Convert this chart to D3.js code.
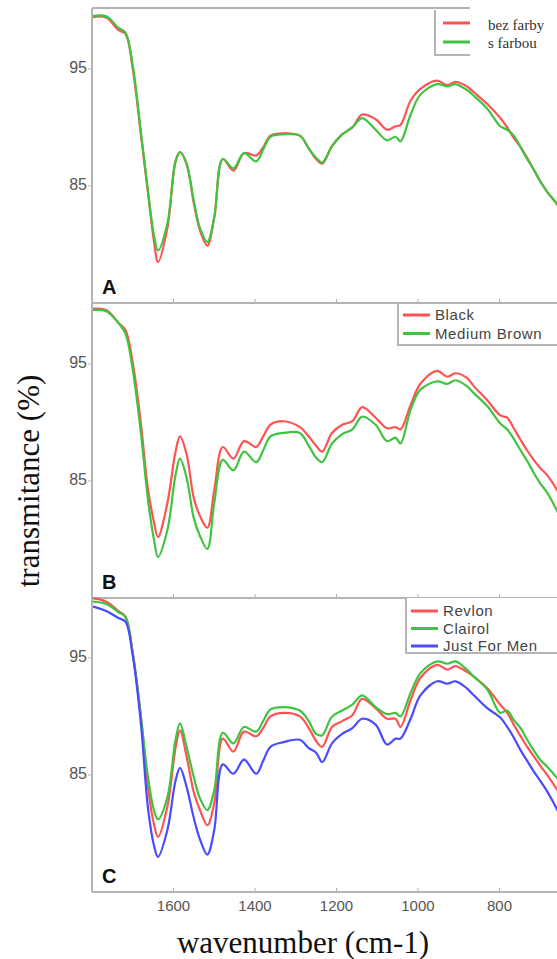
<html>
<head>
  <script src="https://d3js.org/d3.v7.min.js"></script>
  <style>
    body { margin: 0; background: #fff; }
    .frame { stroke: #b4b4b4; stroke-width: 2; fill: none; }
    .tick-mark { stroke: #b4b4b4; stroke-width: 1; }
  </style>
</head>
<body>
  <svg id="chart" width="557" height="959"></svg>

  <script>
    // wavenumbers (cm-1)
    const wavenumber = [
      1800, 1765, 1735, 1718, 1700, 1680, 1663, 1648, 1638, 1615,
      1595, 1584, 1568, 1550, 1535, 1517, 1500, 1479, 1453, 1427,
      1397, 1380, 1362, 1330, 1290, 1268, 1250, 1235, 1211, 1186,
      1161, 1137, 1104, 1076, 1055, 1043, 1018, 994, 953, 928,
      908, 880, 863, 830, 798, 781, 765, 748, 732, 716,
      700, 683, 658, 650
    ];

    // panel A
    const bezFarby = [
      99.4, 99.4, 98.3, 98.0, 95.0, 89.4, 84.5, 80.3, 78.5, 81.4,
      87.1, 87.9, 86.9, 83.5, 81.2, 79.9, 82.3, 87.3, 86.3, 87.8,
      87.6, 88.3, 89.3, 89.5, 89.3, 88.2, 87.3, 86.9, 88.4, 89.4,
      90.0, 91.1, 90.7, 89.8, 90.1, 90.2, 92.3, 93.3, 94.0, 93.6,
      93.9, 93.5, 93.0, 92.0, 90.8, 90.0, 89.1, 88.3, 87.4, 86.4,
      85.4, 84.5, 83.4, 82.8
    ];
    const sFarbou = [
      99.5, 99.5, 98.5, 98.1, 95.3, 89.6, 84.7, 80.8, 79.5, 81.8,
      87.1, 87.9, 86.9, 83.7, 81.4, 80.2, 82.3, 87.3, 86.5, 87.8,
      87.1, 88.1, 89.2, 89.4, 89.3, 88.2, 87.4, 87.0, 88.4, 89.4,
      90.0, 90.8, 89.8, 88.9, 89.2, 88.8, 91.1, 92.8, 93.7, 93.5,
      93.7, 93.2, 92.7, 91.6, 90.1, 89.8, 89.3, 88.3, 87.3, 86.4,
      85.4, 84.5, 83.4, 82.8
    ];

    // panel B
    const black = [
      99.7, 99.6, 98.5, 97.9, 95.1, 89.9, 84.4, 81.5, 80.2, 83.1,
      87.5, 88.8, 87.3, 83.5, 82.0, 81.0, 84.2, 87.9, 86.9, 88.4,
      87.9, 88.8, 89.8, 90.1, 89.6, 88.8, 88.0, 87.5, 89.1, 89.8,
      90.1, 91.3, 90.4, 89.5, 89.6, 89.4, 91.5, 93.3, 94.4, 93.9,
      94.2, 93.8, 93.1, 91.9, 90.6, 90.4, 89.5, 88.5, 87.6, 86.8,
      86.1, 85.5, 84.2, 83.7
    ];
    const mediumBrown = [
      99.6, 99.5, 98.5, 97.6, 94.5, 89.1, 83.5, 80.0, 78.5, 80.8,
      85.5, 86.9, 85.3, 81.8, 80.3, 79.2, 83.1, 86.8, 85.9, 87.5,
      86.6, 87.6, 88.8, 89.1, 89.1, 88.0, 87.0, 86.6, 88.2, 89.0,
      89.4, 90.5, 89.8, 88.4, 88.7, 88.2, 91.1, 92.8, 93.5, 93.3,
      93.6, 93.1, 92.5, 91.4, 89.9, 89.4, 88.6, 87.6, 86.7, 85.7,
      84.8, 84.0, 82.4, 81.8
    ];

    // panel C
    const revlon = [
      100.1, 99.8, 99.0, 98.5, 95.4, 90.0, 84.0, 80.8, 79.7, 82.3,
      87.3, 88.8, 86.6, 83.5, 82.0, 80.7, 82.6, 88.1, 87.0, 88.7,
      88.3, 89.0, 90.0, 90.3, 90.0, 89.0, 87.9, 87.4, 89.1, 89.6,
      90.1, 91.5, 90.7, 89.8, 89.8, 89.1, 91.4, 93.3, 94.4, 94.0,
      94.3, 93.8, 93.4, 92.4, 91.0, 90.3, 89.3, 88.3, 87.4, 86.6,
      85.8, 85.0, 83.7, 83.2
    ];
    const clairol = [
      99.8, 99.6, 98.9, 98.5, 95.4, 90.0, 84.9, 82.0, 81.2, 83.1,
      88.0, 89.4, 87.4, 84.8, 83.0, 82.0, 83.7, 88.6, 87.7, 89.1,
      88.7, 89.6, 90.6, 90.8, 90.5, 89.6, 88.5, 88.4, 90.0, 90.5,
      91.0, 91.8, 90.8, 90.2, 90.3, 90.0, 92.0, 93.7, 94.7, 94.5,
      94.7, 94.0, 93.4, 92.3, 90.3, 90.5, 89.7, 89.0, 88.0, 87.1,
      86.3, 85.7, 84.7, 84.2
    ];
    const justForMen = [
      99.4, 99.0, 98.4, 98.1, 95.2, 89.4, 82.3, 79.0, 78.0, 80.3,
      84.5, 85.6, 84.0, 81.3, 79.5, 78.2, 80.3, 85.9, 85.1, 86.3,
      85.1, 86.2, 87.4, 87.8, 88.0, 87.3, 86.9, 86.1, 87.7, 88.5,
      89.0, 89.8, 89.3, 87.6, 88.1, 88.1, 89.8, 91.8, 93.0, 92.8,
      93.0, 92.4, 91.8, 90.7, 89.9, 89.1, 88.2, 87.1, 86.2, 85.3,
      84.5, 83.6, 82.0, 81.4
    ];

    const xTicks = [1600, 1400, 1200, 1000, 800];
    const yTicks = [85, 95];
    const RED = '#ff5252', GREEN = '#3ec43e', BLUE = '#4a4aff';

    const panels = [
      { label: 'A', top: 8, bottom: 303,
        series: [{ name: 'bez farby', values: bezFarby, color: RED },
                 { name: 's farbou', values: sFarbou, color: GREEN }] },
      { label: 'B', top: 303, bottom: 598,
        series: [{ name: 'Black', values: black, color: RED },
                 { name: 'Medium Brown', values: mediumBrown, color: GREEN }] },
      { label: 'C', top: 597, bottom: 892,
        series: [{ name: 'Revlon', values: revlon, color: RED },
                 { name: 'Clairol', values: clairol, color: GREEN },
                 { name: 'Just For Men', values: justForMen, color: BLUE }] }
    ];

    const svg = d3.select('svg#chart');
    const left = 92;
    const xScale = d3.scaleLinear().domain([1800, 650]).range([left, 560.6]);

    panels.forEach((p, i) => {
      const yScale = d3.scaleLinear().domain([75, 100.2]).range([p.bottom, p.top]);

      svg.append('clipPath').attr('id', 'clip' + i)
        .append('rect')
        .attr('x', left).attr('y', p.top)
        .attr('width', 557 - left).attr('height', p.bottom - p.top);

      const line = d3.line()
        .x((d, j) => xScale(wavenumber[j]))
        .y(d => yScale(d))
        .curve(d3.curveCatmullRom.alpha(0.5));

      const g = svg.append('g').attr('clip-path', `url(#clip${i})`);
      p.series.forEach(s => {
        g.append('path')
          .datum(s.values)
          .attr('fill', 'none')
          .attr('stroke', s.color)
          .attr('stroke-width', 2.2)
          .attr('stroke-linejoin', 'round')
          .attr('d', line);
      });

      // y ticks
      yTicks.forEach(t => {
        svg.append('line').attr('class', 'tick-mark')
          .attr('x1', left - 4).attr('x2', left)
          .attr('y1', yScale(t)).attr('y2', yScale(t));
        svg.append('text')
          .text(t)
          .attr('x', left - 5).attr('y', yScale(t))
          .attr('text-anchor', 'end')
          .attr('dominant-baseline', 'middle')
          .style('font-family', 'Liberation Sans, Arial, sans-serif')
          .style('font-size', '16px')
          .style('fill', '#555');
      });

      // x tick marks on panel bottom
      xTicks.forEach(t => {
        svg.append('line').attr('class', 'tick-mark')
          .attr('x1', xScale(t)).attr('x2', xScale(t))
          .attr('y1', p.bottom - 4).attr('y2', p.bottom);
      });

      // separator / bottom line
      svg.append('line').attr('class', 'frame')
        .attr('x1', left).attr('x2', 557)
        .attr('y1', p.bottom).attr('y2', p.bottom);

      svg.append('text')
        .text(p.label)
        .attr('x', 102).attr('y', p.bottom - 9)
        .style('font-family', 'Liberation Sans, Arial, sans-serif')
        .style('font-weight', 'bold')
        .style('font-size', '20px')
        .style('fill', '#111');
    });

    // top frame line (cut short by the pasted legend) and left axis
    svg.append('line').attr('class', 'frame')
      .attr('x1', left).attr('x2', 470).attr('y1', 8).attr('y2', 8);
    svg.append('line').attr('class', 'frame')
      .attr('x1', left).attr('x2', left).attr('y1', 8).attr('y2', 892);

    // x tick labels
    xTicks.forEach(t => {
      svg.append('text')
        .text(t)
        .attr('x', xScale(t)).attr('y', 911)
        .attr('text-anchor', 'middle')
        .style('font-family', 'Liberation Sans, Arial, sans-serif')
        .style('font-size', '15px')
        .style('fill', '#555');
    });

    // legends
    const legendA = svg.append('g');
    legendA.append('path').attr('class', 'frame').attr('stroke-width', 1.5)
      .attr('d', 'M435,10V55H470');
    panels[0].series.forEach((s, j) => {
      legendA.append('line')
        .attr('x1', 443).attr('x2', 470)
        .attr('y1', 23 + j * 19).attr('y2', 23 + j * 19)
        .attr('stroke', s.color).attr('stroke-width', 3);
      legendA.append('text')
        .text(s.name)
        .attr('x', 488).attr('y', 30 + j * 18)
        .style('font-family', 'Liberation Serif, Times New Roman, serif')
        .style('font-size', '15px')
        .style('fill', '#333');
    });

    function boxLegend(series, boxX, top, bottom, firstY, step) {
      const lg = svg.append('g');
      lg.append('rect')
        .attr('x', boxX).attr('y', top)
        .attr('width', 557 - boxX + 5).attr('height', bottom - top)
        .attr('fill', '#fff');
      lg.append('path').attr('class', 'frame').attr('stroke-width', 1.5)
        .attr('d', `M${boxX},${top}V${bottom}H557`);
      series.forEach((s, j) => {
        const y = firstY + j * step;
        lg.append('line')
          .attr('x1', boxX + 5).attr('x2', boxX + 32)
          .attr('y1', y).attr('y2', y)
          .attr('stroke', s.color).attr('stroke-width', 3);
        lg.append('text')
          .text(s.name)
          .attr('x', boxX + 37).attr('y', y + 5)
          .style('font-family', 'Liberation Sans, Arial, sans-serif')
          .style('font-size', '15px')
          .style('letter-spacing', '0.6px')
          .style('fill', '#444');
      });
    }
    boxLegend(panels[1].series, 398, 304, 345, 315, 18.5);
    boxLegend(panels[2].series, 406, 598, 653, 611, 17.5);

    // axis titles
    svg.append('text')
      .text('wavenumber (cm-1)')
      .attr('x', 303).attr('y', 953)
      .attr('text-anchor', 'middle')
      .style('font-family', 'Liberation Serif, Times New Roman, serif')
      .style('font-size', '31px')
      .style('fill', '#111');

    svg.append('g')
      .attr('transform', 'translate(39, 481) rotate(-90)')
      .append('text')
      .text('transmitance (%)')
      .attr('text-anchor', 'middle')
      .style('font-family', 'Liberation Serif, Times New Roman, serif')
      .style('font-size', '31px')
      .style('fill', '#111');
  </script>
</body>
</html>
